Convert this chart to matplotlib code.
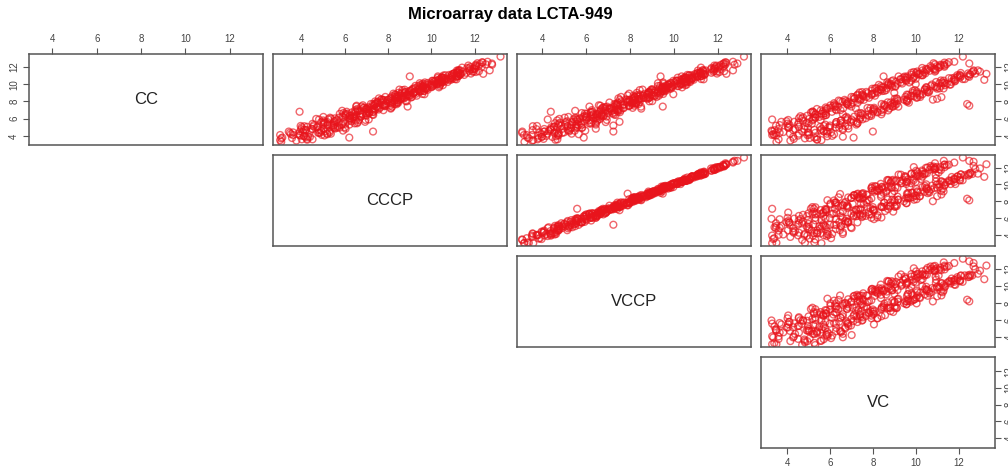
import matplotlib.pyplot as plt

# expression values (one entry per probe, same order in every list)
cc = [4.35, 4.52, 4.68, 4.80, 4.95, 5.05, 5.18, 5.30, 5.42, 5.51, 5.63, 5.74, 5.85, 5.93, 6.05, 6.12,
      6.24, 6.33, 6.41, 6.52, 6.60, 6.71, 6.79, 6.88, 6.97, 7.06, 7.13, 7.22, 7.30, 7.38, 7.47, 7.55,
      7.63, 7.70, 7.79, 7.86, 7.95, 8.03, 8.10, 8.18, 8.27, 8.34, 8.42, 8.50, 8.57, 8.65, 8.73, 8.80,
      8.88, 8.95, 9.03, 9.10, 9.18, 9.25, 9.32, 9.40, 9.47, 9.55, 9.62, 9.70, 9.77, 9.85, 9.92, 10.00,
      10.07, 10.14, 10.22, 10.29, 10.36, 10.44, 10.51, 10.58, 10.66, 10.73, 10.80, 10.88, 10.95, 11.02,
      11.10, 11.17, 11.25, 11.32, 11.40, 11.47, 11.55, 11.62, 11.70, 11.78, 11.85, 11.93, 12.00, 12.08,
      12.15, 12.25, 12.35, 12.55,
      3.45, 3.60, 3.75, 3.88, 4.00, 4.12, 4.25, 4.36, 4.48, 4.59, 4.70, 4.82, 4.93, 5.04, 5.15, 5.26,
      5.37, 5.48, 5.59, 5.70, 5.81, 5.92, 6.03, 6.13, 6.23, 6.33, 6.43, 6.53, 6.62, 6.72, 6.81, 6.90,
      6.99, 7.08, 7.17, 7.26, 7.35, 7.44, 7.53, 7.62, 7.71, 7.80, 7.89, 7.98, 8.07, 8.16, 8.25, 8.34,
      8.43, 8.52, 8.61, 8.70, 8.79, 8.88, 8.97, 9.06, 9.15, 9.24, 9.33, 9.42, 9.51, 9.60, 9.69, 9.78,
      9.87, 9.96, 10.05, 10.14, 10.23, 10.32, 10.41, 10.50, 10.59, 10.68, 10.77, 10.86, 10.95, 11.04,
      11.13, 11.25,
      3.30, 6.80, 4.50, 3.80, 13.20, 11.60, 11.20, 10.50, 10.90, 7.40, 7.70, 7.50, 5.90, 8.30, 8.50,
      8.20, 11.50, 12.60, 12.40, 4.10, 3.60, 5.00, 6.20, 4.40, 5.60, 3.90, 10.00, 9.00, 7.20, 6.50,
      8.70, 5.20,
      4.05, 4.20, 4.35, 4.50, 4.65, 4.80, 4.95, 5.10, 5.25, 5.40, 5.55, 5.70, 5.85, 6.00, 6.14, 6.28,
      6.42, 6.56, 6.70, 6.84, 6.98, 7.12, 7.26, 7.40, 7.54, 7.68, 7.82, 7.96, 8.10, 8.24, 8.38, 8.52,
      8.66, 8.80, 8.94, 9.08, 9.22, 9.36, 9.50, 9.64, 9.78, 9.92, 10.06, 10.20, 10.34, 10.48, 10.62,
      10.76, 10.90, 11.04, 11.18, 11.32, 11.46, 11.60, 11.74, 11.88, 12.02, 12.16, 12.30, 12.50,
      3.50, 3.65, 3.80, 3.95, 4.10, 4.25, 4.40, 4.55, 4.70, 4.85, 5.00, 5.15, 5.30, 5.45, 5.60, 5.75,
      5.90, 6.05, 6.20, 6.35, 6.50, 6.65, 6.80, 6.95, 7.10, 7.25, 7.40, 7.55, 7.70, 7.85, 8.00, 8.15,
      8.30, 8.45, 8.60, 8.75, 8.90, 9.05, 9.20, 9.35, 9.50, 9.65, 9.80, 9.95, 10.10, 10.25, 10.40,
      10.55, 10.70, 10.85, 11.00, 11.15, 11.30, 11.45, 11.60,
      4.10, 4.27, 4.44, 4.61, 4.78, 4.95, 5.12, 5.29, 5.46, 5.63, 5.80, 5.97, 6.14, 6.31, 6.48, 6.65,
      6.82, 6.99, 7.16, 7.33, 7.50, 7.67, 7.84, 8.01, 8.18, 8.35, 8.52, 8.69, 8.86, 9.03, 9.20, 9.37,
      9.54, 9.71, 9.88, 10.05, 10.22, 10.39, 10.56, 10.73, 10.90, 11.07, 11.24, 11.41, 11.58, 11.75,
      11.92, 12.09, 12.26, 12.43,
      3.55, 3.71, 3.87, 4.03, 4.19, 4.35, 4.51, 4.67, 4.83, 4.99, 5.15, 5.31, 5.47, 5.63, 5.79, 5.95,
      6.11, 6.27, 6.43, 6.59, 6.75, 6.91, 7.07, 7.23, 7.39, 7.55, 7.71, 7.87, 8.03, 8.19, 8.35, 8.51,
      8.67, 8.83, 8.99, 9.15, 9.31, 9.47, 9.63, 9.79, 9.95, 10.11, 10.27, 10.43, 10.59, 10.75, 10.91,
      11.07, 11.23, 11.39]

cccp = [4.85, 3.92, 4.78, 4.50, 5.65, 4.25, 5.38, 5.20, 6.02, 5.01, 5.93, 5.54, 6.65, 5.23, 6.25, 5.72,
        6.74, 6.23, 6.71, 6.02, 6.70, 7.11, 6.49, 7.08, 6.47, 7.56, 7.03, 7.52, 6.90, 7.48, 7.87, 7.35,
        7.83, 7.20, 8.09, 7.66, 8.45, 7.93, 8.30, 7.78, 8.37, 8.74, 8.12, 8.70, 8.47, 8.95, 8.33, 8.90,
        9.28, 8.75, 9.23, 8.80, 9.28, 9.55, 9.12, 9.40, 9.77, 9.25, 9.72, 9.60, 10.07, 9.65, 10.12, 9.70,
        10.17, 10.44, 10.12, 10.49, 10.06, 10.54, 10.81, 10.38, 10.66, 10.93, 10.50, 10.98, 11.25, 10.92,
        11.30, 10.97, 11.35, 11.62, 11.20, 11.47, 11.75, 11.32, 11.80, 11.98, 11.75, 12.03, 11.80, 12.08,
        12.05, 12.05, 12.25, 12.35,
        3.75, 4.50, 3.55, 4.38, 4.10, 4.92, 3.85, 4.76, 4.38, 5.29, 4.10, 5.02, 5.53, 4.74, 5.45, 4.56,
        5.87, 5.48, 5.19, 6.30, 5.61, 6.22, 5.53, 6.33, 6.73, 6.03, 6.53, 6.43, 7.02, 6.32, 7.01, 6.70,
        7.39, 6.98, 7.37, 6.86, 7.45, 7.84, 7.33, 7.82, 7.41, 7.90, 8.19, 7.78, 8.17, 7.76, 8.55, 8.34,
        8.63, 8.32, 9.01, 8.60, 8.89, 8.58, 9.17, 8.96, 9.45, 9.04, 9.43, 9.12, 9.71, 9.60, 9.99, 9.58,
        9.97, 9.86, 10.25, 9.84, 10.33, 10.62, 10.21, 10.60, 10.49, 10.88, 10.47, 10.96, 11.25, 10.94,
        11.33, 11.05,
        3.05, 3.90, 7.30, 6.20, 13.20, 12.70, 12.40, 10.90, 9.00, 8.90, 8.30, 8.10, 7.10, 8.60, 8.80,
        8.00, 12.20, 12.60, 12.80, 3.60, 4.00, 6.00, 5.00, 5.30, 6.60, 4.30, 10.30, 9.20, 7.00, 6.80,
        8.90, 5.20,
        5.05, 3.50, 4.80, 3.40, 4.90, 4.45, 5.75, 4.55, 5.85, 4.50, 5.70, 5.50, 6.95, 5.36, 6.42, 5.88,
        6.98, 5.76, 7.10, 6.60, 7.78, 6.56, 7.62, 6.52, 7.74, 7.40, 8.46, 7.52, 8.46, 7.70, 8.47, 8.40,
        9.32, 8.32, 9.15, 8.78, 9.64, 8.76, 9.80, 9.46, 10.38, 9.50, 10.26, 9.70, 10.45, 10.32, 10.98,
        10.51, 11.17, 10.64, 11.25, 11.23, 11.96, 11.24, 11.90, 11.66, 12.33, 11.71, 12.52, 12.37,
        3.00, 4.25, 3.10, 4.10, 3.90, 5.35, 3.60, 4.90, 4.20, 5.55, 4.00, 5.65, 5.00, 6.45, 4.90, 6.20,
        4.80, 6.25, 5.92, 6.99, 6.06, 7.13, 6.08, 7.07, 6.94, 8.13, 6.76, 7.83, 7.30, 8.41, 7.40, 8.45,
        8.12, 9.05, 8.18, 9.02, 8.24, 9.20, 8.99, 9.83, 9.17, 10.01, 9.26, 10.04, 10.01, 10.75, 10.04,
        10.71, 10.48, 11.16, 10.55, 11.37, 11.17, 11.90, 11.28,
        3.00, 5.17, 4.04, 5.91, 3.98, 5.45, 4.12, 5.49, 6.56, 5.03, 6.50, 4.67, 6.38, 6.23, 7.28, 5.93,
        7.30, 6.59, 8.12, 7.09, 6.54, 8.39, 7.52, 8.86, 7.66, 8.68, 7.87, 8.82, 9.58, 8.64, 9.66, 8.52,
        9.74, 9.64, 10.53, 9.60, 10.52, 10.14, 11.16, 10.58, 10.30, 11.52, 11.04, 12.06, 11.18, 12.00,
        11.42, 12.19, 12.81, 12.13,
        4.25, 3.05, 4.17, 3.93, 5.19, 3.45, 5.11, 4.17, 6.03, 4.69, 3.95, 6.21, 5.07, 6.93, 4.99, 6.45,
        5.31, 6.43, 7.31, 6.11, 7.31, 5.87, 7.31, 7.15, 8.19, 6.83, 8.19, 7.47, 8.81, 7.99, 7.57, 9.10,
        8.41, 9.68, 8.47, 9.48, 8.66, 9.60, 10.35, 9.40, 10.41, 9.46, 10.42, 10.38, 11.09, 10.30, 11.21,
        10.82, 11.83, 11.24]

vccp = [4.55, 4.12, 5.18, 4.10, 5.55, 4.55, 4.88, 5.30, 6.22, 4.81, 5.63, 5.94, 6.55, 5.43, 6.35, 5.52,
        6.94, 5.93, 6.71, 6.32, 6.60, 7.31, 6.29, 7.18, 6.67, 7.36, 7.13, 7.72, 6.80, 7.28, 7.97, 7.55,
        7.73, 7.30, 8.29, 7.46, 8.45, 8.03, 8.20, 7.98, 8.37, 8.54, 8.22, 8.80, 8.37, 9.15, 8.33, 8.80,
        9.38, 8.85, 9.13, 8.90, 9.28, 9.65, 9.02, 9.50, 9.67, 9.35, 9.72, 9.50, 10.17, 9.65, 10.02, 9.80,
        10.17, 10.54, 10.02, 10.49, 10.16, 10.44, 10.91, 10.38, 10.76, 10.83, 10.50, 11.08, 11.25, 10.82,
        11.40, 10.97, 11.35, 11.72, 11.20, 11.37, 11.85, 11.32, 11.80, 11.88, 11.85, 12.03, 11.90, 12.08,
        11.95, 12.15, 12.25, 12.35,
        3.55, 4.70, 3.85, 3.98, 4.20, 4.72, 4.25, 4.76, 4.08, 5.49, 4.40, 4.92, 5.83, 4.54, 5.55, 4.76,
        5.57, 5.78, 5.09, 6.50, 5.61, 6.02, 5.73, 6.43, 6.63, 6.23, 6.33, 6.53, 7.22, 6.22, 7.01, 6.90,
        7.29, 7.08, 7.47, 6.76, 7.45, 7.94, 7.43, 7.72, 7.41, 8.10, 8.09, 7.88, 8.17, 7.86, 8.45, 8.44,
        8.63, 8.22, 9.11, 8.60, 8.79, 8.68, 9.27, 8.86, 9.45, 9.14, 9.43, 9.02, 9.81, 9.60, 9.89, 9.68,
        9.97, 9.76, 10.35, 9.84, 10.33, 10.72, 10.11, 10.70, 10.49, 10.88, 10.57, 10.86, 11.25, 11.04,
        11.33, 11.05,
        3.20, 4.40, 7.25, 5.90, 13.20, 12.70, 12.40, 10.80, 9.40, 9.50, 8.40, 8.20, 5.60, 8.80, 8.90,
        8.20, 12.30, 12.70, 12.90, 3.30, 3.80, 5.60, 5.20, 5.00, 6.90, 4.00, 10.40, 9.10, 7.10, 6.70,
        7.90, 7.25,
        4.75, 3.98, 4.92, 3.10, 5.26, 4.39, 5.33, 5.15, 5.67, 4.74, 6.24, 5.14, 6.95, 5.56, 6.02, 6.00,
        6.82, 6.04, 6.78, 6.64, 7.58, 6.88, 7.70, 6.16, 7.98, 7.36, 8.18, 7.92, 8.37, 7.82, 8.74, 8.22,
        9.32, 8.47, 8.85, 8.87, 9.52, 8.97, 9.56, 9.49, 10.23, 9.74, 10.30, 9.52, 10.57, 10.30, 10.84,
        10.71, 11.11, 10.72, 11.43, 11.11, 11.96, 11.34, 11.70, 11.72, 12.25, 11.85, 12.36, 12.39,
        3.60, 4.07, 3.34, 4.64, 3.54, 5.35, 3.90, 4.30, 4.38, 5.31, 4.42, 5.17, 5.06, 6.15, 5.38, 6.32,
        4.26, 6.49, 5.88, 6.71, 6.46, 7.01, 6.24, 7.43, 6.70, 8.13, 6.96, 7.43, 7.42, 8.25, 7.61, 8.21,
        8.15, 8.90, 8.42, 9.08, 7.97, 9.38, 8.96, 9.62, 9.47, 9.92, 9.38, 10.31, 9.89, 10.75, 10.14,
        10.51, 10.54, 11.08, 10.69, 11.21, 11.19, 11.80, 11.44,
        3.18, 4.75, 4.58, 5.97, 3.74, 5.81, 3.58, 5.79, 6.44, 5.51, 6.14, 4.79, 5.98, 6.51, 7.28, 5.81,
        7.46, 6.27, 8.52, 6.89, 6.66, 8.11, 7.88, 8.89, 7.54, 8.86, 7.60, 8.97, 9.52, 8.88, 9.48, 8.58,
        9.44, 9.85, 10.53, 9.54, 10.60, 9.98, 11.36, 10.48, 10.36, 11.38, 11.22, 12.08, 11.10, 12.12,
        11.24, 12.29, 12.77, 12.29,
        4.61, 3.40, 4.47, 3.81, 5.67, 3.09, 5.23, 3.57, 6.45, 4.69, 3.77, 6.45, 4.59, 7.53, 4.69, 6.63,
        5.03, 6.79, 7.35, 5.95, 7.55, 5.51, 7.51, 7.07, 8.51, 6.59, 8.27, 7.07, 9.02, 7.99, 7.48, 9.22,
        8.17, 9.98, 8.32, 9.57, 8.45, 9.87, 10.38, 9.28, 10.59, 9.28, 10.52, 10.34, 11.25, 10.18, 11.25,
        10.62, 11.97, 11.24]

vc = [3.65, 3.30, 4.28, 3.60, 4.05, 4.55, 3.48, 4.50, 4.02, 4.91, 4.33, 4.74, 4.05, 5.23, 4.55, 5.32,
      5.24, 4.93, 5.81, 5.32, 5.70, 5.11, 6.09, 5.78, 5.57, 6.26, 5.83, 6.62, 5.80, 6.38, 6.27, 6.85,
      6.23, 6.80, 6.19, 7.06, 6.85, 6.73, 7.40, 6.68, 7.37, 7.14, 7.82, 7.10, 7.57, 7.55, 7.93, 7.30,
      7.98, 7.75, 8.23, 7.70, 8.18, 7.95, 8.62, 8.30, 7.97, 8.65, 8.42, 8.90, 8.37, 8.85, 8.82, 8.70,
      9.37, 8.74, 9.32, 9.09, 9.56, 8.94, 9.51, 9.28, 9.86, 9.53, 9.90, 9.48, 9.95, 10.32, 9.80, 10.07,
      10.45, 10.02, 10.40, 10.07, 10.65, 10.52, 10.90, 10.48, 10.85, 10.73, 11.10, 10.98, 11.35, 11.15,
      11.45, 11.55,
      4.15, 5.40, 5.05, 4.28, 6.10, 5.02, 5.85, 4.96, 5.88, 5.69, 6.60, 5.62, 6.43, 5.54, 6.85, 6.46,
      6.27, 7.28, 6.29, 7.10, 6.81, 7.52, 6.83, 7.43, 7.13, 7.93, 7.53, 7.93, 7.32, 8.22, 8.01, 7.80,
      8.39, 8.08, 8.77, 8.06, 8.65, 8.54, 9.03, 8.52, 9.11, 9.00, 8.69, 9.58, 9.17, 9.56, 9.15, 9.64,
      10.03, 9.52, 9.81, 10.20, 9.59, 10.18, 10.07, 10.56, 10.05, 10.64, 10.53, 10.42, 11.11, 10.50,
      10.99, 10.88, 11.37, 10.76, 11.45, 11.34, 11.23, 11.82, 11.31, 11.80, 12.19, 11.68, 12.07, 11.96,
      12.45, 11.94, 12.53, 12.45,
      3.50, 5.20, 8.00, 7.10, 12.20, 12.70, 13.30, 13.20, 8.50, 8.90, 12.40, 12.50, 3.30, 11.00, 11.20,
      10.80, 12.70, 11.80, 12.50, 3.40, 3.60, 6.00, 5.50, 5.00, 6.30, 6.60, 10.00, 9.00, 7.20, 6.60,
      7.50, 6.00,
      3.49, 3.35, 3.47, 4.70, 3.41, 4.37, 4.97, 4.04, 3.65, 5.15, 4.54, 3.97, 5.56, 4.69, 5.32, 4.62,
      5.81, 5.60, 5.25, 5.67, 6.30, 5.39, 6.02, 7.00, 6.02, 6.79, 7.28, 6.58, 6.40, 7.44, 7.34, 7.00,
      8.10, 7.52, 8.08, 7.50, 8.54, 8.38, 8.10, 8.48, 9.04, 8.28, 8.84, 9.70, 8.88, 9.56, 10.00,
      9.42, 9.20, 10.24, 10.14, 9.80, 10.90, 10.32, 10.88, 10.30, 11.34, 11.18, 10.90, 11.34,
      5.60, 4.31, 5.27, 5.87, 4.94, 4.55, 6.05, 5.84, 5.27, 6.86, 5.93, 6.71, 5.78, 7.28, 6.98, 6.50,
      7.01, 7.67, 6.77, 7.41, 8.40, 7.43, 8.21, 8.71, 8.02, 7.75, 8.95, 8.82, 8.41, 9.68, 9.02, 9.59,
      9.02, 10.07, 9.92, 9.65, 10.04, 10.61, 9.86, 10.43, 11.30, 10.49, 11.18, 11.63, 11.10, 10.95,
      11.85, 11.80, 11.55, 12.50, 12.05, 12.55, 12.10, 13.00, 12.90,
      3.30, 4.13, 3.82, 3.27, 4.80, 4.09, 4.82, 4.11, 5.00, 3.73, 5.18, 5.03, 4.74, 5.69, 5.32, 5.79,
      5.18, 6.49, 5.88, 6.23, 6.16, 6.99, 6.80, 6.47, 7.58, 7.14, 7.70, 7.26, 7.93, 7.38, 8.43, 8.38,
      8.16, 9.05, 8.72, 9.15, 8.67, 9.79, 9.31, 9.63, 9.60, 10.32, 10.19, 9.91, 10.93, 10.55, 11.07,
      10.69, 11.31, 10.83,
      5.39, 4.83, 5.39, 4.51, 6.19, 5.31, 5.71, 5.55, 6.59, 6.27, 5.71, 7.23, 6.51, 7.23, 6.51, 7.39,
      6.71, 7.83, 7.75, 7.49, 8.43, 8.05, 8.51, 7.89, 9.19, 8.57, 8.91, 8.83, 9.62, 9.45, 9.11, 10.21,
      9.76, 10.31, 9.86, 10.52, 9.96, 11.00, 10.94, 10.71, 11.59, 11.26, 11.67, 11.18, 12.29, 11.80,
      12.11, 12.07, 12.78, 12.64]

names = ['CC', 'CCCP', 'VCCP', 'VC']
ticks = [4, 6, 8, 10, 12]
title = 'Microarray data LCTA-949'

plt.rcParams['font.family'] = ['Liberation Sans', 'DejaVu Sans']

data = [cc, cccp, vccp, vc]
lims = [(2.94, 13.5), (2.67, 13.5), (2.86, 13.52), (2.78, 13.7)]

W, H = 1008, 470
fig = plt.figure(figsize=(W / 100, H / 100), dpi=100)
lefts = [29, 273, 517, 761]
tops = [54, 155, 256, 357]
pw, ph = 234, 91

for i in range(4):
    for j in range(i, 4):
        ax = fig.add_axes([lefts[j] / W, 1 - (tops[i] + ph) / H, pw / W, ph / H])
        ax.set_xlim(lims[j])
        ax.set_ylim(lims[i])
        for s in ax.spines.values():
            s.set_color('#555555')
            s.set_linewidth(1.1)
        ax.set_xticks(ticks)
        ax.set_yticks(ticks)
        ax.tick_params(direction='out', length=4, width=0.8, color='#555555',
                       labelsize=7, labelcolor='#444444', pad=3,
                       top=(i == 0), labeltop=(i == 0),
                       bottom=(i == 3), labelbottom=(i == 3),
                       left=(j == 0), labelleft=(j == 0),
                       right=(j == 3), labelright=(j == 3))
        ax.tick_params(axis='y', labelrotation=90)
        for lab in ax.get_yticklabels():
            lab.set_va('center')
        if i == j:
            ax.text(0.5, 0.5, names[i], transform=ax.transAxes, ha='center',
                    va='center', fontsize=12, color='#222222')
        else:
            ax.scatter(data[j], data[i], s=24, facecolors='none',
                       edgecolors='#e8141c', alpha=0.65, linewidths=1.0)

fig.text(510 / W, 1 - 14 / H, title, ha='center', va='center',
         fontsize=12, fontweight='bold')
fig.savefig('out.png', dpi=100)
